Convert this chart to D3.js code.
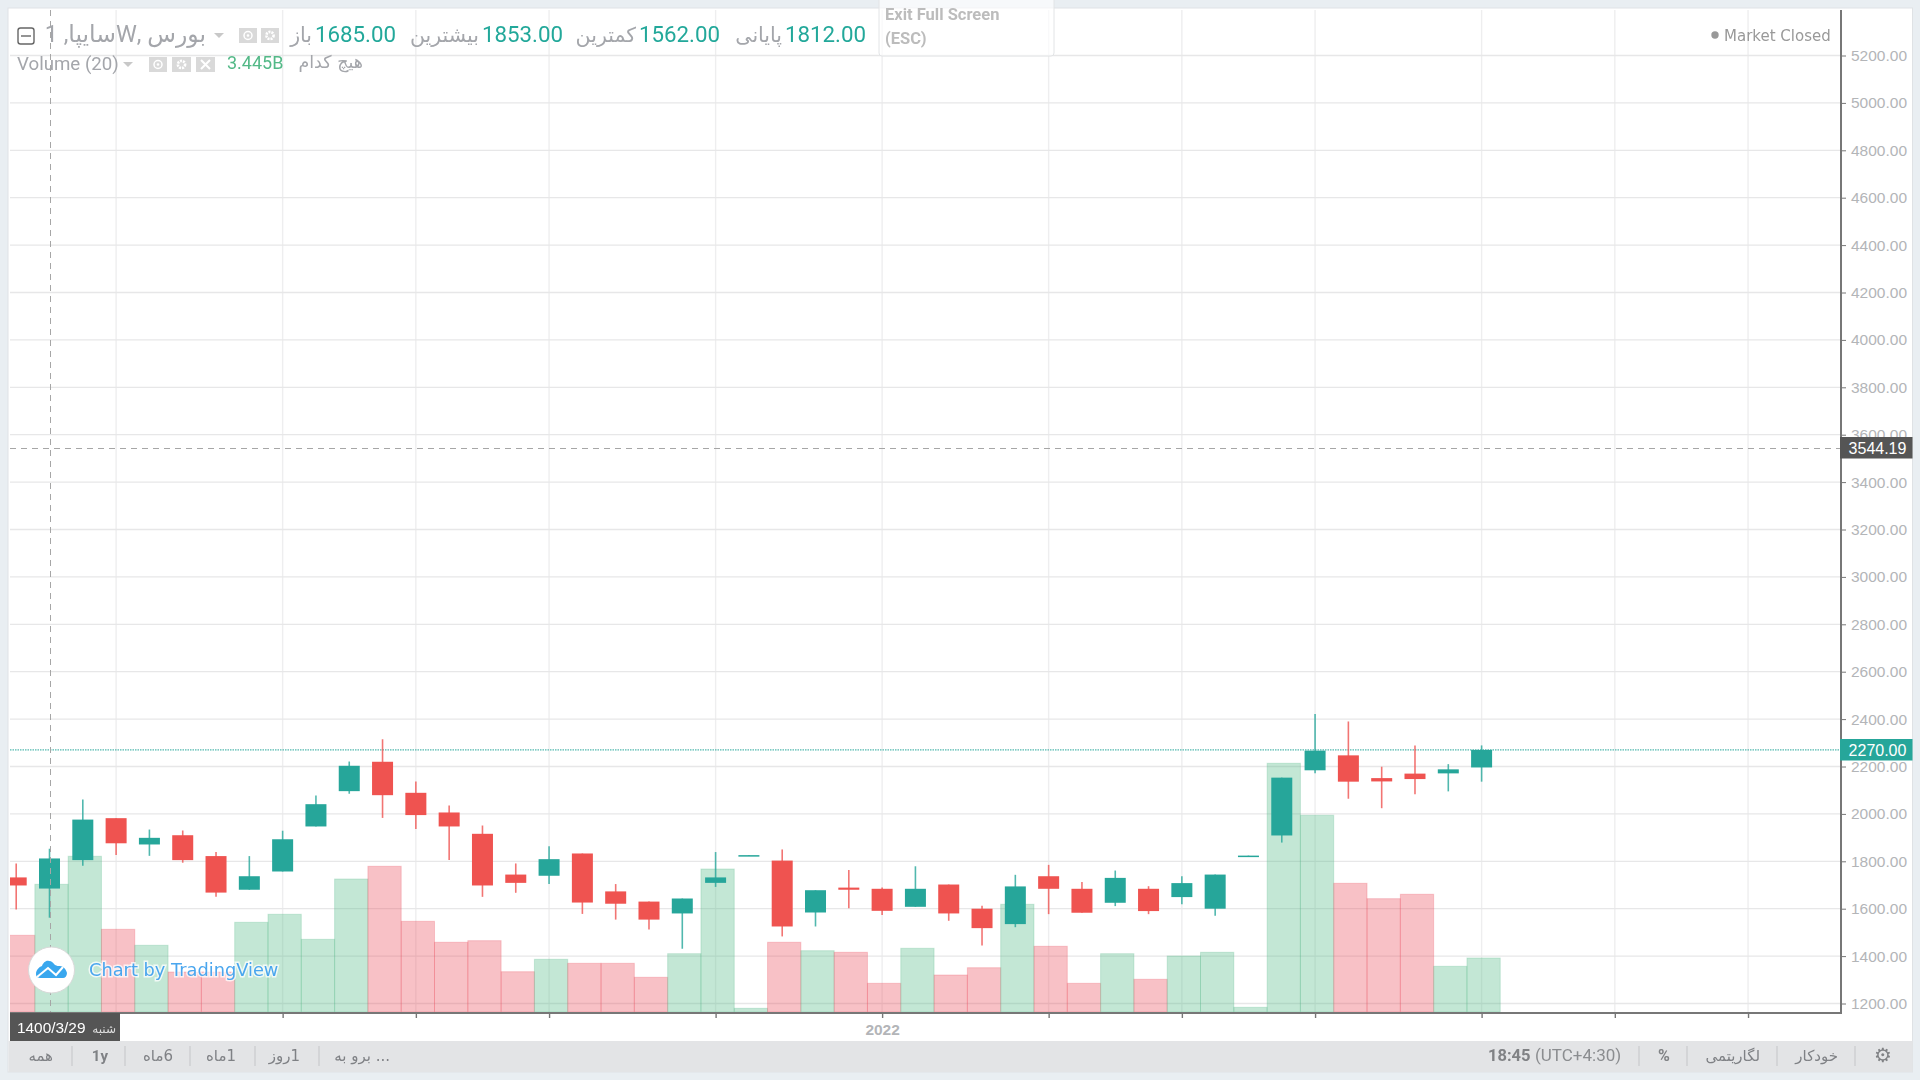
<!DOCTYPE html>
<html>
<head>
<meta charset="utf-8">
<script src="https://cdn.jsdelivr.net/npm/d3@7/dist/d3.min.js"></script>
<style>
  html, body { margin: 0; padding: 0; background: #e9eef2; }
  svg { display: block; }
  text { font-family: Roboto, sans-serif; }
  .ax text { font-family: "Liberation Sans", Arial, sans-serif; }
</style>
</head>
<body>
<svg id="chart" width="1920" height="1080"></svg>
<script>
// one entry per session
const opens = [1732,1685,1805,1982,1871,1910,1822,1680,1757,1947,2096,2220,2089,2006,1916,1744,1739,1833,1673,1630,1580,1709,1822,1803,1584,1689,1684,1608,1702,1600,1535,1737,1684,1625,1684,1649,1600,1822,1909,2184,2247,2151,2170,2171,2196];
const closes = [1698,1812,1976,1876,1899,1805,1668,1737,1893,2041,2203,2079,1995,1947,1698,1709,1809,1626,1621,1554,1643,1732,1826,1525,1678,1680,1591,1684,1580,1518,1694,1684,1583,1730,1590,1708,1744,1824,2153,2267,2136,2137,2147,2188,2270];
const highs = [1791,1853,2061,1982,1934,1930,1839,1822,1929,2078,2221,2315,2137,2035,1951,1791,1864,1833,1704,1630,1643,1839,1826,1850,1678,1763,1689,1779,1702,1612,1743,1785,1713,1761,1695,1737,1744,1824,2153,2421,2390,2199,2289,2210,2289];
const lows = [1597,1562,1781,1827,1823,1794,1650,1680,1757,1947,2085,1983,1936,1805,1650,1667,1704,1578,1554,1512,1431,1692,1822,1483,1525,1602,1573,1608,1549,1445,1522,1577,1583,1611,1577,1619,1570,1822,1879,2171,2064,2024,2083,2095,2136];
const volumes = [2.069,3.445,4.201,2.231,1.8,1.079,1.079,2.42,2.636,1.961,3.588,3.931,2.447,1.881,1.924,1.087,1.422,1.314,1.314,0.936,1.573,3.858,0.1,1.881,1.654,1.611,0.774,1.719,0.998,1.195,2.906,1.773,0.774,1.573,0.882,1.511,1.611,0.127,6.71,5.307,3.472,3.057,3.176,1.233,1.457];

const priceTicks = [5200,5000,4800,4600,4400,4200,4000,3800,3600,3400,3200,3000,2800,2600,2400,2200,2000,1800,1600,1400,1200];
const timeTicks = [3,8,12,16,21,26,31,35,39,44,48,52];
const timeLabels = {26: "2022"};
const lastPrice = 2270, crossPrice = 3544.19, crossBar = 1;
const leftButtons = [["همه",53],["1y",108],["6ماه",173],["1ماه",236],["1روز",300],["برو به ...",390]];
const leftSeps = [72,125,190,255,319];
const rightSeps = [1639,1687,1777,1855];

const upColor = "#26a69a", downColor = "#ef5350";
const volUp = "#53b987", volDown = "#eb4d5c";
const gray = "#a4a6ab";

const plot = {left: 10, right: 1841, top: 10, bottom: 1013};
const svg = d3.select("#chart");

const x = d3.scaleLinear().domain([0, 44]).range([16.2, 1481.6]);
const y = d3.scaleLinear().domain([1200, 5200]).range([1003.5, 55.5]);
const yVol = d3.scaleLinear().domain([0, 10]).range([1012, 641.3]);
const step = x(1) - x(0);
const bars = d3.range(opens.length);

const root = svg.append("g").style("filter", "blur(0.35px)");

// panel
root.append("rect").attr("x", 8).attr("y", 8).attr("width", 1904.5).attr("height", 1064).attr("fill", "#fff").attr("stroke", "#dfe2e5");

// grid
root.append("g").selectAll("line").data(timeTicks).enter().append("line")
  .attr("x1", d => x(d)).attr("x2", d => x(d)).attr("y1", plot.top).attr("y2", plot.bottom)
  .attr("stroke", "#eeeeef").attr("stroke-width", 1.4);
root.append("g").selectAll("line").data(priceTicks).enter().append("line")
  .attr("x1", plot.left).attr("x2", plot.right).attr("y1", d => y(d)).attr("y2", d => y(d))
  .attr("stroke", "#e7e7e8").attr("stroke-width", 1.3);

// clip so the first session is cut at the pane edge
svg.append("clipPath").attr("id", "pane").append("rect")
  .attr("x", plot.left).attr("y", plot.top).attr("width", plot.right - plot.left).attr("height", plot.bottom - plot.top - 1);
const pane = root.append("g").attr("clip-path", "url(#pane)");

// volume
pane.append("g").selectAll("rect").data(bars).enter().append("rect")
  .attr("x", i => x(i) + 2 - step / 2)
  .attr("width", step)
  .attr("y", i => yVol(volumes[i]))
  .attr("height", i => yVol(0) - yVol(volumes[i]))
  .attr("fill", i => closes[i] >= opens[i] ? volUp : volDown)
  .attr("fill-opacity", 0.35)
  .attr("stroke", i => closes[i] >= opens[i] ? volUp : volDown)
  .attr("stroke-opacity", 0.25);

// last price + crosshair
pane.append("line").attr("x1", plot.left).attr("x2", plot.right).attr("y1", y(lastPrice)).attr("y2", y(lastPrice))
  .attr("stroke", upColor).attr("stroke-dasharray", "1.5 1");
pane.append("line").attr("x1", plot.left).attr("x2", plot.right).attr("y1", Math.round(y(crossPrice)) + 0.5).attr("y2", Math.round(y(crossPrice)) + 0.5)
  .attr("stroke", "#a6a6a6").attr("stroke-dasharray", "6 5");

// candles
const candle = pane.append("g").selectAll("g").data(bars).enter().append("g");
candle.append("line")
  .attr("x1", i => x(i)).attr("x2", i => x(i))
  .attr("y1", i => y(highs[i])).attr("y2", i => y(lows[i]))
  .attr("stroke", i => closes[i] >= opens[i] ? upColor : downColor)
  .attr("stroke-width", 1.6).attr("stroke-opacity", 0.8);
candle.append("rect")
  .attr("x", i => x(i) - 10.5).attr("width", 21)
  .attr("y", i => y(Math.max(opens[i], closes[i])))
  .attr("height", i => Math.max(1.5, Math.abs(y(opens[i]) - y(closes[i]))))
  .attr("fill", i => closes[i] >= opens[i] ? upColor : downColor);

// vertical crosshair runs over everything in the pane
root.append("line").attr("x1", 50.5).attr("x2", 50.5).attr("y1", plot.top).attr("y2", plot.bottom + 6)
  .attr("stroke", "#a6a6a6").attr("stroke-dasharray", "6 5");

// axes
const yAxis = root.append("g").attr("class", "ax").attr("transform", `translate(${plot.right},0)`)
  .call(d3.axisRight(y).tickValues(priceTicks).tickFormat(d3.format(".2f")).tickSize(5).tickPadding(5));
yAxis.select(".domain").remove();
yAxis.selectAll("line").attr("stroke", "#777");
yAxis.selectAll("text").attr("fill", "#b3b5b8").style("font-size", "15.5px");

const xAxis = root.append("g").attr("class", "ax").attr("transform", `translate(0,${plot.bottom})`)
  .call(d3.axisBottom(x).tickValues(timeTicks).tickFormat(d => timeLabels[d] || "").tickSize(5).tickPadding(6));
xAxis.select(".domain").remove();
xAxis.selectAll("line").attr("stroke", "#777").attr("stroke-width", 1.4);
xAxis.selectAll("text").attr("fill", "#b3b5b8").style("font-size", "15.5px").style("font-weight", "bold");

root.append("line").attr("x1", plot.left).attr("x2", plot.right + 1).attr("y1", plot.bottom).attr("y2", plot.bottom).attr("stroke", "#777").attr("stroke-width", 2);
root.append("line").attr("x1", plot.right).attr("x2", plot.right).attr("y1", plot.top).attr("y2", plot.bottom).attr("stroke", "#777").attr("stroke-width", 2);

// price flags on the scale
function flag(value, fill, label) {
  const g = root.append("g").attr("transform", `translate(${plot.right - 1},${Math.round(y(value))})`);
  g.append("rect").attr("y", -11).attr("width", 72.5).attr("height", 21.5).attr("fill", fill);
  g.append("text").attr("x", 37.5).attr("y", 5.5).attr("text-anchor", "middle").attr("fill", "#fff")
    .style("font-family", "'Liberation Sans', Arial, sans-serif").style("font-size", "16px").text(label);
}
flag(crossPrice, "#555", crossPrice.toFixed(2));
flag(lastPrice, upColor, lastPrice.toFixed(2));

// date flag
root.append("rect").attr("x", plot.left).attr("y", plot.bottom).attr("width", 110).attr("height", 28).attr("fill", "#555");
root.append("text").attr("x", 17).attr("y", 1033).attr("fill", "#fff").style("font-size", "15.4px").style("font-family", "'Liberation Sans'").text("1400/3/29");
root.append("text").attr("x", 116).attr("y", 1033).attr("text-anchor", "end").attr("fill", "#ddd").style("font-size", "12px").style("font-family", "'DejaVu Sans'").text("شنبه");

// watermark
const wm = root.append("g");
wm.append("circle").attr("cx", 51.5).attr("cy", 970).attr("r", 23).attr("fill", "#fff").attr("stroke", "#d8d8d8");
wm.append("path").attr("fill", "#39a7ee")
  .attr("d", "M36 974c0-4 3-7 6-8 1-3 4-6 7-5 3 0 4 2 6 4 2 1 3 1 5 1 3 0 6 3 7 7 0 3-2 5-4 5H41c-3 0-5-1-5-4z");
wm.append("path").attr("fill", "none").attr("stroke", "#fff").attr("stroke-width", 2)
  .attr("d", "M37 977l11-9 8 7 7-8");
wm.append("text").attr("x", 89).attr("y", 976).attr("fill", "#4aa6ee").attr("stroke", "#fff").attr("stroke-width", 3).attr("stroke-opacity", 0.75).attr("paint-order", "stroke")
  .style("font-family", "'DejaVu Sans'").style("font-size", "17.8px").text("Chart by TradingView");

// header
function label(px, py, str, size, fill, anchor, family, weight) {
  return root.append("text").attr("x", px).attr("y", py).attr("text-anchor", anchor || "start").attr("fill", fill)
    .style("font-size", size + "px").style("font-family", family || null).style("font-weight", weight || null).text(str);
}
const fa = "'DejaVu Sans', sans-serif";

root.append("rect").attr("x", 18).attr("y", 28).attr("width", 16).attr("height", 16).attr("rx", 2.5).attr("fill", "none").attr("stroke", "#666").attr("stroke-width", 1.4);
root.append("line").attr("x1", 21).attr("x2", 31).attr("y1", 36).attr("y2", 36).attr("stroke", "#666").attr("stroke-width", 1.4);
root.append("text").attr("x", 206).attr("y", 42).attr("direction", "rtl").attr("fill", gray)
  .style("font-size", "23.5px").style("font-family", "Roboto, 'DejaVu Sans', sans-serif").text("بورس ,Wسایپا, 1");
root.append("path").attr("d", "M214 33h10l-5 5z").attr("fill", "#c8c8c8");

const iconBoxes = [[239,28,18,15,"eye"],[261,28,18,15,"gear"],[149,57,18,15,"eye"],[172,57,19,15,"gear"],[196,57,19,15,"x"]];
iconBoxes.forEach(b => {
  root.append("rect").attr("x", b[0]).attr("y", b[1]).attr("width", b[2]).attr("height", b[3]).attr("fill", "#d9d9d9");
  const cx = b[0] + b[2] / 2, cy = b[1] + b[3] / 2;
  if (b[4] === "eye") {
    root.append("circle").attr("cx", cx).attr("cy", cy).attr("r", 4).attr("fill", "none").attr("stroke", "#fff").attr("stroke-width", 1.5);
    root.append("circle").attr("cx", cx).attr("cy", cy).attr("r", 1.3).attr("fill", "#fff");
  } else if (b[4] === "gear") {
    root.append("circle").attr("cx", cx).attr("cy", cy).attr("r", 3.6).attr("fill", "none").attr("stroke", "#fff").attr("stroke-width", 2.6).attr("stroke-dasharray", "2 1");
  } else {
    root.append("path").attr("d", `M${cx-4.5} ${cy-4.5}L${cx+4.5} ${cy+4.5}M${cx+4.5} ${cy-4.5}L${cx-4.5} ${cy+4.5}`).attr("stroke", "#fff").attr("stroke-width", 2);
  }
});

const ohlc = [["باز",312,"1685.00",315],["بیشترین",479,"1853.00",482],["کمترین",636,"1562.00",639],["پایانی",782,"1812.00",785]];
ohlc.forEach(d => {
  label(d[1], 42, d[0], 20.5, gray, "end", fa);
  label(d[3], 42, d[2], 22.3, "#22a89a");
});

label(17, 70, "Volume (20)", 18.7, gray);
root.append("path").attr("d", "M123 62h10l-5 5z").attr("fill", "#c8c8c8");
label(227, 69, "3.445B", 18, "#53b987");
label(363, 68, "هیچ کدام", 17.5, gray, "end", fa);

// exit box
root.append("rect").attr("x", 879).attr("y", -3).attr("width", 175).attr("height", 59).attr("rx", 3).attr("fill", "#fff").attr("fill-opacity", 0.65).attr("stroke", "#e2e4e6");
label(885, 20, "Exit Full Screen", 16.5, "#bcbcbc", "start", null, "bold");
label(885, 44, "(ESC)", 16.5, "#bcbcbc", "start", null, "bold");

// market status
root.append("circle").attr("cx", 1715).attr("cy", 35).attr("r", 3.7).attr("fill", "#999");
label(1724, 40.5, "Market Closed", 15, "#999", "start", "'DejaVu Sans'");

// bottom toolbar
root.append("rect").attr("x", 8.5).attr("y", 1041).attr("width", 1904).attr("height", 31).attr("fill", "#e3e4e6");
leftButtons.forEach(d => label(d[1], 1061, d[0] === "1y" ? d[0] : "\u200F" + d[0], 15, "#7f8185", "end", d[0] === "1y" ? null : fa, d[0] === "1y" ? "bold" : null));
leftSeps.concat(rightSeps).forEach(px => {
  root.append("line").attr("x1", px).attr("x2", px).attr("y1", 1046).attr("y2", 1066).attr("stroke", "#c4c5c8");
});
label(1488, 1061, "18:45", 16.5, "#808285", "start", null, "bold");
label(1535, 1061, "(UTC+4:30)", 17, "#8b8d90");
label(1658, 1061, "%", 16, "#808285", "start", null, "bold");
label(1760, 1061, "لگاریتمی", 15, "#7f8185", "end", fa);
label(1838, 1061, "خودکار", 15, "#7f8185", "end", fa);
label(1883, 1062, "\u2699", 20, "#808285", "middle", "'DejaVu Sans'");
</script>
</body>
</html>
